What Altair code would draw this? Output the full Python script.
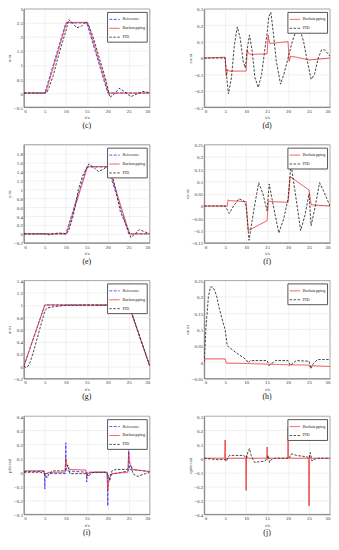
import altair as alt
import pandas as pd

T_TICKS = [0, 5, 10, 15, 20, 25, 30]
COLORS = {"Reference": "#2a2aff", "Backstepping": "#ee2a2a", "PID": "#222222"}
DASH = {"Reference": [3, 1.5], "Backstepping": [1, 0], "PID": [2.5, 1.5]}

# ---------------- panel (c): x/m ----------------
c_ref_t = [0, 5, 10, 15, 20, 30]
c_ref_v = [0, 0, 2.5, 2.5, 0, 0]
c_bs_t = [0, 5.2, 10.2, 15.2, 20.2, 30]
c_bs_v = [0, 0, 2.52, 2.52, 0, 0]
c_pid_t = [0, 5, 5.5, 6, 7, 8, 9, 10, 10.7, 11.5, 12.6, 13.7, 14.8, 15.5, 16.5, 17.5, 18.5, 19.5, 20.5, 21.5, 22.7, 24, 25.5, 27, 28.4, 30]
c_pid_v = [0, 0, 0.02, 0.2, 0.62, 1.2, 1.72, 2.2, 2.62, 2.52, 2.33, 2.38, 2.55, 2.4, 2.0, 1.5, 1.0, 0.5, -0.15, -0.05, 0.17, 0.05, -0.13, -0.03, 0.06, 0.01]

# ---------------- panel (d): ex/m ----------------
d_bs_t = [0, 5, 5.3, 5.6, 5.9, 10.0, 10.25, 10.5, 11, 15.0, 15.25, 15.6, 16.0, 20.0, 20.25, 20.6, 22, 25, 30]
d_bs_v = [0, 0.005, -0.11, -0.07, -0.08, -0.08, 0.05, 0.03, 0.022, 0.025, 0.14, 0.09, 0.09, 0.1, -0.02, 0.01, 0.005, -0.012, 0.0]
d_pid_t = [0, 5, 5.3, 5.8, 6.5, 7.2, 7.9, 8.6, 9.3, 9.8, 10.3, 10.8, 11.4, 12.1, 12.9, 13.7, 14.5, 15.0, 15.4, 15.9, 16.5, 17.2, 18.2, 19.0, 20.0, 21.0, 21.8, 22.8, 23.7, 24.6, 25.5, 26.3, 27.2, 28.0, 28.7, 29.4, 30]
d_pid_v = [0, 0, -0.1, -0.22, -0.12, 0.08, 0.19, 0.12, -0.02, -0.06, 0.06, 0.14, 0.05, -0.12, -0.18, -0.1, 0.06, 0.15, 0.25, 0.28, 0.15, -0.02, -0.16, -0.1, 0.0, 0.1, 0.16, 0.18, 0.1, -0.02, -0.13, -0.1, 0.0, 0.05, 0.05, 0.03, 0.01]

# ---------------- panel (e): y/m ----------------
e_ref_t = [0, 10, 15, 20, 25, 30]
e_ref_v = [0, 0, 1.5, 1.5, 0, 0]
e_bs_t = [0, 10.2, 15.2, 20.2, 25.2, 30]
e_bs_v = [0, 0, 1.51, 1.51, 0, 0]
e_pid_t = [0, 5, 6, 7, 8.3, 9.5, 10, 10.7, 11.8, 13, 14, 15, 15.5, 16.5, 17.8, 19, 20, 20.7, 22, 23, 24, 25, 25.5, 26.5, 27.5, 28.5, 30]
e_pid_v = [0, 0, -0.02, 0.0, 0.02, 0.01, 0.0, 0.07, 0.42, 1.0, 1.3, 1.48, 1.57, 1.5, 1.4, 1.45, 1.53, 1.46, 0.95, 0.5, 0.28, 0.06, -0.08, 0.0, 0.095, 0.06, 0.0]

# ---------------- panel (f): ey/m ----------------
f_bs_t = [0, 5.5, 5.7, 6, 10.0, 10.5, 15.0, 15.3, 16, 20.0, 20.5, 25.0, 25.5, 30]
f_bs_v = [0, 0, 0.025, 0.022, 0.018, -0.1, -0.06, 0.02, 0.018, 0.015, 0.12, 0.065, 0.005, 0.0]
f_pid_t = [0, 5, 6, 7, 8.3, 9.5, 10, 10.7, 11.8, 13, 14, 15, 15.5, 16.5, 17.8, 19, 20, 20.7, 22, 23, 24, 25, 25.5, 26.5, 27.5, 28.5, 30]
f_pid_v = [0, 0, -0.03, 0.0, 0.03, 0.02, 0.0, -0.14, -0.02, 0.095, 0.05, -0.02, 0.09, 0.0, -0.11, -0.05, 0.03, 0.17, 0.02, -0.1, -0.04, 0.05, -0.08, 0.0, 0.095, 0.06, 0.0]

# ---------------- panel (g): z/m ----------------
g_ref_t = [0, 5, 25, 30]
g_ref_v = [0, 1, 1, 0]
g_bs_t = [0, 5, 25, 30]
g_bs_v = [0, 1.0, 1.0, 0.01]
g_pid_t = [0, 0.5, 1, 1.5, 2, 3, 4, 5, 5.5, 7, 10, 15, 20, 25, 25.3, 30]
g_pid_v = [0, -0.02, 0.0, 0.07, 0.17, 0.41, 0.66, 0.9, 0.95, 0.97, 0.995, 0.995, 0.995, 0.992, 0.96, 0.01]

# ---------------- panel (h): ez/m ----------------
h_bs_t = [0, 5, 5.3, 10, 15, 15.3, 15.6, 20, 20.3, 20.6, 25, 25.3, 25.6, 30]
h_bs_v = [0.01, 0.01, -0.003, -0.004, -0.006, -0.009, -0.006, -0.008, -0.011, -0.008, -0.009, -0.015, -0.011, -0.013]
h_pid_t = [0, 0.4, 1, 1.5, 2, 2.5, 3, 3.5, 4, 4.5, 5, 5.5, 7.5, 10, 10.5, 11, 15, 15.5, 16.5, 17, 20, 20.5, 21.5, 22, 25, 25.4, 26, 27, 30]
h_pid_v = [0, 0.1, 0.2, 0.23, 0.23, 0.22, 0.2, 0.17, 0.145, 0.12, 0.1, 0.05, 0.03, 0.008, -0.002, 0.005, 0.005, -0.01, 0.0, 0.005, 0.005, -0.01, 0.0, 0.005, 0.003, -0.02, -0.005, 0.008, 0.008]

# ---------------- panel (i): phi/rad ----------------
i_ref_t = [0, 4.9, 5, 5.1, 9.9, 10, 10.1, 14.9, 15, 15.1, 19.9, 20, 20.1, 24.9, 25, 25.1, 30]
i_ref_v = [0.005, 0.005, -0.12, -0.01, -0.01, 0.21, 0.01, 0.0, -0.07, 0.0, 0.0, -0.24, -0.02, 0.01, 0.28, 0.02, 0.005]
i_bs_t = [0, 4.8, 5, 5.3, 6, 9.8, 10, 10.1, 10.4, 11, 14.8, 15, 15.3, 16, 19.8, 20, 20.1, 20.4, 21, 24.8, 25, 25.1, 25.4, 26, 30]
i_bs_v = [0.01, 0.012, -0.02, -0.01, 0.0, 0.0, 0.1, 0.08, 0.04, 0.02, 0.015, -0.03, -0.01, 0.0, 0.0, -0.13, -0.1, -0.04, -0.01, 0.0, 0.14, 0.1, 0.05, 0.02, 0.005]
i_pid_t = [0, 4, 5, 5.5, 6, 7, 9.5, 10, 10.5, 11, 12, 14.5, 15, 15.5, 16, 17, 19.5, 20, 20.5, 21, 22, 24.5, 25, 25.5, 26, 27, 29, 30]
i_pid_v = [0.0, 0.0, -0.01, -0.04, -0.01, 0.01, 0.01, 0.02, 0.05, -0.01, -0.01, -0.01, -0.01, -0.03, -0.005, 0.0, 0.0, -0.02, -0.06, 0.01, 0.02, 0.02, 0.03, 0.05, -0.01, -0.03, -0.01, 0.0]

# ---------------- panel (j): ephi/rad ----------------
j_bs_t = [0, 4.9, 5, 5.1, 5.3, 9.9, 10, 10.1, 10.3, 14.9, 15, 15.1, 15.3, 19.9, 20, 20.1, 20.3, 24.9, 25, 25.1, 25.3, 30]
j_bs_v = [0, 0, 0.13, -0.02, 0, 0, -0.23, 0.02, 0, 0, 0.08, -0.01, 0, 0, 0.22, 0.0, 0, 0, -0.34, 0.02, 0, 0]
j_pid_t = [0, 3, 5, 5.3, 5.6, 6, 7, 9.5, 10, 10.5, 10.8, 11.2, 12, 14.5, 15, 15.3, 15.6, 16, 17, 19.5, 20, 20.3, 20.7, 21, 22, 24.5, 25, 25.3, 25.7, 26, 27, 30]
j_pid_v = [0, -0.01, -0.01, -0.02, 0.0, 0.02, 0.02, 0.02, 0.0, 0.05, 0.07, 0.02, -0.03, -0.02, 0.0, 0.02, -0.03, -0.01, 0.0, 0.0, 0.0, 0.0, 0.03, 0.03, 0.02, 0.01, 0.0, 0.04, -0.02, -0.01, 0.0, 0.0]

PW, PH = 127, 99


def panel(series, ytitle, ydomain, yticks, caption):
    names = [s[0] for s in series]
    layers = []
    for name, t, v in series:
        df = pd.DataFrame({"t": t, "v": v, "series": name})
        layers.append(
            alt.Chart(df).mark_line(strokeWidth=0.85, clip=True).encode(
                x=alt.X("t:Q", scale=alt.Scale(domain=[0, 30], nice=False),
                        axis=alt.Axis(values=T_TICKS, title="t/s", format="~g")),
                y=alt.Y("v:Q", scale=alt.Scale(domain=ydomain, nice=False, zero=False),
                        axis=alt.Axis(values=yticks, title=ytitle, format="~g")),
                color=alt.Color("series:N",
                                scale=alt.Scale(domain=names, range=[COLORS[n] for n in names]),
                                legend=alt.Legend(title=None, orient="top-right")),
                strokeDash=alt.StrokeDash("series:N",
                                          scale=alt.Scale(domain=names, range=[DASH[n] for n in names]),
                                          legend=alt.Legend(title=None, orient="top-right")),
            )
        )
    return alt.layer(*layers).properties(
        width=PW, height=PH,
        title=alt.TitleParams(caption, orient="bottom", font="Liberation Serif",
                              fontSize=8, fontWeight="normal", offset=2, color="#111"),
    )


pc = panel([("Reference", c_ref_t, c_ref_v), ("Backstepping", c_bs_t, c_bs_v), ("PID", c_pid_t, c_pid_v)],
           "x/m", [-0.5, 3], [-0.5, 0, 0.5, 1, 1.5, 2, 2.5, 3], "(c)")
pd_ = panel([("Backstepping", d_bs_t, d_bs_v), ("PID", d_pid_t, d_pid_v)],
            "ex/m", [-0.3, 0.3], [-0.3, -0.2, -0.1, 0, 0.1, 0.2, 0.3], "(d)")
pe = panel([("Reference", e_ref_t, e_ref_v), ("Backstepping", e_bs_t, e_bs_v), ("PID", e_pid_t, e_pid_v)],
           "y/m", [-0.2, 2.0], [-0.2, 0, 0.2, 0.4, 0.6, 0.8, 1, 1.2, 1.4, 1.6, 1.8], "(e)")
pf = panel([("Backstepping", f_bs_t, f_bs_v), ("PID", f_pid_t, f_pid_v)],
           "ey/m", [-0.15, 0.25], [-0.15, -0.1, -0.05, 0, 0.05, 0.1, 0.15, 0.2, 0.25], "(f)")
pg = panel([("Reference", g_ref_t, g_ref_v), ("Backstepping", g_bs_t, g_bs_v), ("PID", g_pid_t, g_pid_v)],
           "z/m", [-0.2, 1.4], [-0.2, 0, 0.2, 0.4, 0.6, 0.8, 1, 1.2, 1.4], "(g)")
ph = panel([("Backstepping", h_bs_t, h_bs_v), ("PID", h_pid_t, h_pid_v)],
           "ez/m", [-0.05, 0.25], [-0.05, 0, 0.05, 0.1, 0.15, 0.2, 0.25], "(h)")
pi = panel([("Reference", i_ref_t, i_ref_v), ("Backstepping", i_bs_t, i_bs_v), ("PID", i_pid_t, i_pid_v)],
           "phi/rad", [-0.3, 0.4], [-0.3, -0.2, -0.1, 0, 0.1, 0.2, 0.3, 0.4], "(i)")
pj = panel([("Backstepping", j_bs_t, j_bs_v), ("PID", j_pid_t, j_pid_v)],
           "ephi/rad", [-0.4, 0.3], [-0.4, -0.3, -0.2, -0.1, 0, 0.1, 0.2, 0.3], "(j)")

chart = alt.concat(pc, pd_, pe, pf, pg, ph, pi, pj, columns=2,
                   spacing={"row": 38, "column": 55}, bounds="flush").resolve_scale(
    color="independent", strokeDash="independent"
).properties(
    padding={"left": -2, "top": -4.5, "right": 0, "bottom": 0}
).configure(
    font="Liberation Serif"
).configure_axis(
    labelFont="Liberation Serif", labelFontSize=5, labelColor="#333",
    titleFont="Liberation Serif", titleFontSize=5, titleFontWeight="normal", titleColor="#333",
    titlePadding=1.5, labelPadding=1.5,
    grid=True, gridColor="#e3e3e3", gridWidth=0.5,
    domainColor="#555", domainWidth=0.6, ticks=False,
).configure_view(
    stroke="#555", strokeWidth=0.6
).configure_legend(
    labelFont="Liberation Serif", labelFontSize=4.2, labelColor="#222",
    symbolType="stroke", symbolSize=110, symbolStrokeWidth=0.8,
    padding=1.5, rowPadding=0, offset=3, labelOffset=2,
    strokeColor="#555", fillColor="white", cornerRadius=0,
)

chart.save("out.html", embed_options={"renderer": "svg", "actions": False})
